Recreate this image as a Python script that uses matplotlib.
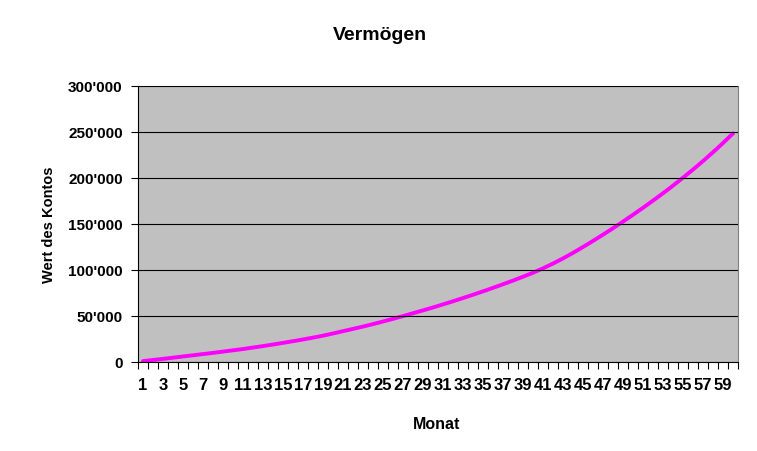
import numpy as np
import matplotlib
matplotlib.use("Agg")
import matplotlib.pyplot as plt
from matplotlib.ticker import FuncFormatter

# Monate 1..60 und Kontostand
monat = list(range(1, 61))
wert = [1000, 2200, 3400, 4700, 6000, 7300, 8600, 9900, 11300, 12700,
        14100, 15700, 17300, 19000, 20800, 22600, 24500, 26500, 28600, 31000,
        33500, 36000, 38500, 41200, 44000, 46900, 49900, 53000, 56100, 59300,
        62600, 66000, 69500, 73100, 76800, 80600, 84500, 88500, 92700, 97000,
        101800, 107000, 112600, 118600, 125000, 131600, 138400, 145400, 152600, 160000,
        167600, 175400, 183400, 191700, 200300, 209200, 218400, 228000, 238000, 248500]
y_ticks = [0, 50000, 100000, 150000, 200000, 250000, 300000]

plt.rcParams['font.family'] = ['Liberation Sans', 'DejaVu Sans']

fig = plt.figure(figsize=(7.57, 4.52), dpi=100)
ax = fig.add_axes([138/757, 89/452, 600/757, 276/452])
ax.set_facecolor("#C0C0C0")

ax.plot(monat, wert, color="#FF00FF", lw=2.8, solid_capstyle="round")

ax.set_xlim(0.5, 60.5)
ax.set_ylim(0, 300000)
ax.set_yticks(y_ticks)
ax.yaxis.set_major_formatter(FuncFormatter(lambda v, p: "0" if v == 0 else "{:,.0f}".format(v).replace(",", "'")))
ax.grid(axis="y", color="black", lw=0.8)
ax.set_axisbelow(False)

ax.set_xticks(monat[::2])
ax.set_xticks(np.arange(0.5, 61, 1), minor=True)
ax.tick_params(axis="x", which="major", length=0, pad=11, labelsize=12)
ax.tick_params(axis="x", which="minor", length=5, width=0.8, color="black")
ax.tick_params(axis="y", length=5, width=0.8, pad=6, labelsize=11)
for lab in ax.get_xticklabels() + ax.get_yticklabels():
    lab.set_fontweight("bold")

for s in ["top", "right"]:
    ax.spines[s].set_color("#808080")
for s in ["left", "bottom"]:
    ax.spines[s].set_color("black")

ax.set_ylabel("Wert des Kontos", fontsize=10.5, fontweight="bold")
ax.yaxis.set_label_coords(-0.136, 0.5)
ax.set_xlabel("Monat", fontsize=11.5, fontweight="bold")
ax.xaxis.set_label_coords(0.498, -0.196)
fig.text(380/757, 1 - 35/452, "Vermögen", fontsize=14, fontweight="bold", ha="center", va="center")

fig.savefig("out.png", dpi=100)
